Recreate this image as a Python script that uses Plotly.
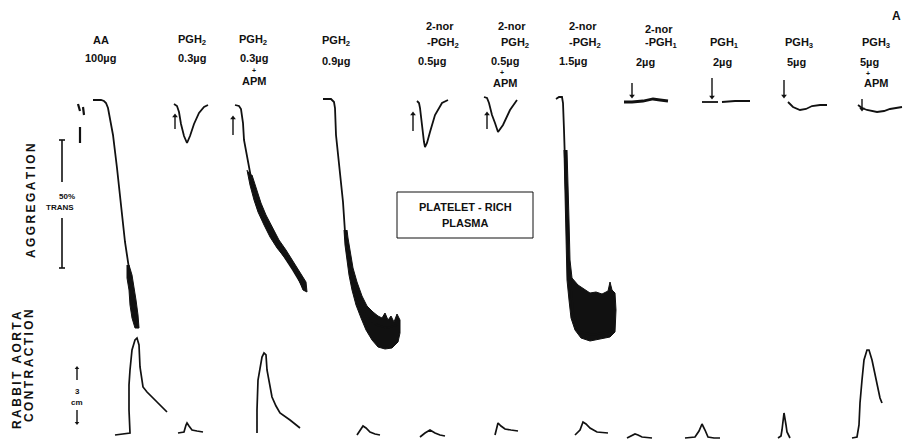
import plotly.graph_objects as go

# ---------------- data (figure units ~ pixels) ----------------
# Aggregation traces (light transmission records)
agg1_x = [93, 101, 104, 106, 108, 110, 113, 117, 122, 125, 130, 133, 138]
agg1_y = [100, 100, 101, 103, 108, 118, 135, 168, 212, 242, 275, 302, 328]
agg2_x = [174, 177, 179, 181, 184, 187, 190, 194, 199, 204, 208]
agg2_y = [104, 106, 112, 124, 136, 143, 136, 124, 113, 107, 105]
agg3_x = [235, 239, 241, 243, 244, 247, 252, 258, 268, 280, 293, 305]
agg3_y = [105, 106, 109, 123, 140, 157, 183, 207, 230, 250, 270, 290]
agg4_x = [323, 331, 334, 335, 336, 338, 340, 342, 343, 345, 348, 353, 360, 368, 377, 387, 397]
agg4_y = [99, 99, 102, 108, 135, 155, 172, 192, 202, 232, 258, 285, 305, 318, 325, 328, 325]
agg5_x = [417, 419, 420, 422, 424, 425, 427, 430, 435, 442, 448]
agg5_y = [101, 103, 108, 128, 142, 147, 143, 132, 115, 103, 100]
agg6_x = [484, 487, 489, 492, 495, 498, 503, 510, 517]
agg6_y = [97, 98, 103, 115, 123, 132, 125, 110, 100]
agg7_x = [556, 559, 562, 563, 564, 565, 566, 567, 568, 570, 573, 580, 593, 607, 613]
agg7_y = [99, 97, 97, 103, 130, 160, 200, 235, 258, 278, 312, 332, 335, 332, 328]
agg8_x = [624, 632, 643, 653, 660, 668]
agg8_y = [102, 102, 101, 99, 100, 101]
agg9_x = [702, 710, 718, None, 722, 735, 750]
agg9_y = [102, 102, 102, None, 102, 101, 101]
agg10_x = [788, 793, 800, 806, 812, 820, 827]
agg10_y = [102, 107, 110, 109, 106, 105, 105]
agg11_x = [858, 862, 867, 872, 877, 884, 890, 896, 902]
agg11_y = [105, 108, 110, 111, 112, 111, 109, 108, 107]

# noisy (thick) portions of the aggregation records, as outlines
band1_x = [127, 127, 129, 130, 132, 135, 139, 138, 136, 134, 132, 129]
band1_y = [265, 278, 290, 305, 318, 328, 328, 315, 300, 288, 275, 265]
band3_x = [247, 250, 254, 258, 264, 270, 277, 285, 292, 298, 303,
           307, 306, 300, 294, 286, 279, 273, 266, 261, 257, 252]
band3_y = [170, 185, 200, 212, 225, 237, 248, 258, 268, 278, 290,
           292, 282, 272, 262, 250, 240, 228, 215, 203, 190, 175]
band4_x = [344, 345, 347, 349, 352, 356, 361, 366, 372, 378, 385, 392, 398, 400, 400,
           397, 394, 391, 388, 385, 382, 378, 373, 367, 362, 357, 353, 350, 348, 347]
band4_y = [230, 245, 260, 275, 290, 305, 318, 330, 340, 347, 349, 348, 342, 333, 320,
           314, 322, 316, 320, 313, 318, 316, 312, 306, 296, 282, 268, 252, 238, 230]
band7_x = [564, 565, 566, 567, 567, 569, 571, 575, 581, 590, 600, 610, 615, 616, 615,
           612, 610, 608, 602, 596, 590, 585, 578, 572, 570, 569, 568, 567]
band7_y = [150, 200, 250, 275, 280, 300, 318, 330, 338, 341, 339, 337, 332, 310, 293,
           290, 282, 291, 294, 292, 293, 290, 285, 278, 260, 220, 180, 150]

# Rabbit aorta contraction traces
con1_x = [115, 122, 130, 129, 129, 130, 132, 135, 137, 139, 140, 143, 147, 157, 167]
con1_y = [435, 434, 433, 410, 385, 370, 350, 340, 338, 345, 367, 387, 392, 402, 412]
con2_x = [178, 184, 186, 187, 189, 192, 197, 203]
con2_y = [433, 432, 425, 423, 426, 430, 431, 432]
con3_x = [257, 257, 258, 260, 262, 264, 266, 267, 270, 272, 276, 280, 290, 300]
con3_y = [433, 410, 380, 367, 357, 353, 355, 370, 385, 397, 406, 413, 420, 428]
con4_x = [357, 360, 363, 366, 370, 375, 380]
con4_y = [435, 430, 426, 428, 432, 434, 435]
con5_x = [420, 425, 430, 435, 440, 445]
con5_y = [437, 433, 430, 433, 435, 436]
con6_x = [495, 497, 498, 501, 505, 511, 518]
con6_y = [435, 428, 423, 426, 429, 430, 431]
con7_x = [575, 580, 583, 586, 590, 597, 608]
con7_y = [435, 430, 422, 424, 428, 432, 433]
con8_x = [627, 631, 635, 638, 642, 652]
con8_y = [438, 436, 434, 435, 437, 438]
con9_x = [685, 695, 699, 702, 705, 708, 714, 720]
con9_y = [438, 437, 431, 424, 430, 437, 438, 438]
con10_x = [778, 781, 782, 784, 786, 787, 790]
con10_y = [438, 436, 430, 413, 425, 432, 438]
con11_x = [852, 857, 859, 860, 862, 864, 867, 869, 872, 875, 880, 882]
con11_y = [438, 437, 425, 403, 380, 360, 350, 350, 360, 373, 398, 403]

# Column headings: (text, x, y)
head_text = ["AA", "100µg",
             "PGH<sub>2</sub>", "0.3µg",
             "PGH<sub>2</sub>", "0.3µg", "APM",
             "PGH<sub>2</sub>", "0.9µg",
             "2-nor", "-PGH<sub>2</sub>", "0.5µg",
             "2-nor", "PGH<sub>2</sub>", "0.5µg", "APM",
             "2-nor", "-PGH<sub>2</sub>", "1.5µg",
             "2-nor", "-PGH<sub>1</sub>", "2µg",
             "PGH<sub>1</sub>", "2µg",
             "PGH<sub>3</sub>", "5µg",
             "PGH<sub>3</sub>", "5µg", "APM"]
head_x = [101, 100,
          192, 192,
          253, 254, 254,
          336, 336,
          440, 443, 432,
          512, 515, 505, 505,
          583, 585, 573,
          659, 661, 645,
          724, 722,
          799, 796,
          876, 869, 876]
head_y = [40, 58,
          40, 58,
          40, 58, 81,
          41, 61,
          26, 43, 61,
          26, 43, 61, 83,
          26, 43, 61,
          29, 43, 62,
          43, 62,
          43, 62,
          43, 62, 83]

# small "+" signs between dose and APM
plus_x = [254, 502, 868]
plus_y = [70, 72, 73]

# injection arrows: tail (x, y) -> head (x, y); direction of the head
arrow_tx = [175, 233, 413, 487, 632, 712, 784, 862]
arrow_ty = [129, 135, 131, 129, 83, 78, 80, 99]
arrow_hx = [175, 233, 413, 487, 632, 712, 784, 862]
arrow_hy = [116, 118, 114, 114, 96, 97, 96, 109]
arrow_dir = ["up", "up", "up", "up", "down", "down", "down", "down"]

# scale bars
agg_bar_x = [62, 62, None, 62, 62, None, 59, 65, None, 59, 65]
agg_bar_y = [140, 182, None, 218, 268, None, 140, 140, None, 268, 268]
cm_bar_x = [77, 77, None, 77, 77]
cm_bar_y = [369, 380, None, 410, 422]
cm_head_x = [77, 77]
cm_head_y = [368, 423]
cm_head_dir = ["up", "down"]

# "platelet-rich plasma" box outline
box_x = [397, 533, 533, 397, 397]
box_y = [192, 192, 238, 238, 192]

# pen marks at the start of the AA record
mark_x = [78, 80, None, 83, 84, None, 80, 80]
mark_y = [104, 111, None, 107, 115, None, 127, 143]

# ---------------- figure ----------------
fig = go.Figure()
BLACK = "#111111"

def line(x, y, w=1.6):
    fig.add_trace(go.Scatter(x=x, y=y, mode="lines", line=dict(color=BLACK, width=w),
                             hoverinfo="skip", showlegend=False))

def blob(x, y):
    fig.add_trace(go.Scatter(x=x, y=y, mode="lines", fill="toself", fillcolor=BLACK,
                             line=dict(color=BLACK, width=1), hoverinfo="skip",
                             showlegend=False))

def heads(x, y, dirs, size=5):
    fig.add_trace(go.Scatter(x=x, y=y, mode="markers",
                             marker=dict(symbol=["triangle-" + d for d in dirs],
                                         size=size, color=BLACK, line=dict(width=0)),
                             hoverinfo="skip", showlegend=False))

for bx, by in [(band1_x, band1_y), (band3_x, band3_y), (band4_x, band4_y), (band7_x, band7_y)]:
    blob(bx, by)

for ax_, ay_ in [(agg1_x, agg1_y), (agg2_x, agg2_y), (agg3_x, agg3_y), (agg4_x, agg4_y),
                 (agg5_x, agg5_y), (agg6_x, agg6_y), (agg7_x, agg7_y), (agg9_x, agg9_y),
                 (agg10_x, agg10_y), (agg11_x, agg11_y)]:
    line(ax_, ay_, 1.8)
line(agg8_x, agg8_y, 2.8)

for cx, cy in [(con1_x, con1_y), (con2_x, con2_y), (con3_x, con3_y), (con4_x, con4_y),
               (con5_x, con5_y), (con6_x, con6_y), (con7_x, con7_y), (con8_x, con8_y),
               (con9_x, con9_y), (con10_x, con10_y), (con11_x, con11_y)]:
    line(cx, cy, 1.7)

# arrows
for tx, ty, hx, hy in zip(arrow_tx, arrow_ty, arrow_hx, arrow_hy):
    line([tx, hx], [ty, hy], 1.4)
heads(arrow_hx, arrow_hy, arrow_dir, 5)

line(agg_bar_x, agg_bar_y, 1.6)
line(cm_bar_x, cm_bar_y, 1.4)
heads(cm_head_x, cm_head_y, cm_head_dir, 4)
line(box_x, box_y, 1.0)
line(mark_x, mark_y, 2.2)

FONT = "Liberation Sans, Arial, sans-serif"
TS = "\u2009"
ann = []
for t, x, y in zip(head_text, head_x, head_y):
    ann.append(dict(x=x, y=y, text="<b>" + t + "</b>", showarrow=False,
                    font=dict(family=FONT, size=11, color=BLACK),
                    xanchor="center", yanchor="middle"))
for x, y in zip(plus_x, plus_y):
    ann.append(dict(x=x, y=y, text="<b>+</b>", showarrow=False,
                    font=dict(family=FONT, size=7, color=BLACK),
                    xanchor="center", yanchor="middle"))

extra = [("<b>A</b>", 896, 16, 12, 0),
         ("<b>50%</b>", 67, 196, 8, 0),
         ("<b>TRANS</b>", 60, 207, 8, 0),
         ("<b>3</b>", 77, 391, 8, 0),
         ("<b>cm</b>", 77, 402, 8, 0),
         ("<b>PLATELET - RICH</b>", 465, 207, 11, 0),
         ("<b>PLASMA</b>", 465, 223, 11, 0),
         ("<b>" + TS.join("AGGREGATION") + "</b>", 31, 201, 12, -90),
         ("<b>" + TS.join("RABBIT AORTA") + "</b>", 17, 370, 12, -90),
         ("<b>" + TS.join("CONTRACTION") + "</b>", 29, 366, 12, -90)]
for t, x, y, s, ang in extra:
    ann.append(dict(x=x, y=y, text=t, showarrow=False, textangle=ang,
                    font=dict(family=FONT, size=s, color=BLACK),
                    xanchor="center", yanchor="middle"))

fig.update_layout(
    width=905, height=440,
    margin=dict(l=0, r=0, t=0, b=0),
    paper_bgcolor="white", plot_bgcolor="white",
    xaxis=dict(range=[0, 905], visible=False, fixedrange=True),
    yaxis=dict(range=[440, 0], visible=False, fixedrange=True),
    annotations=ann,
    showlegend=False,
)

fig.write_html("out.html", config={"displayModeBar": False},
               post_script="document.body.style.margin='0';")
